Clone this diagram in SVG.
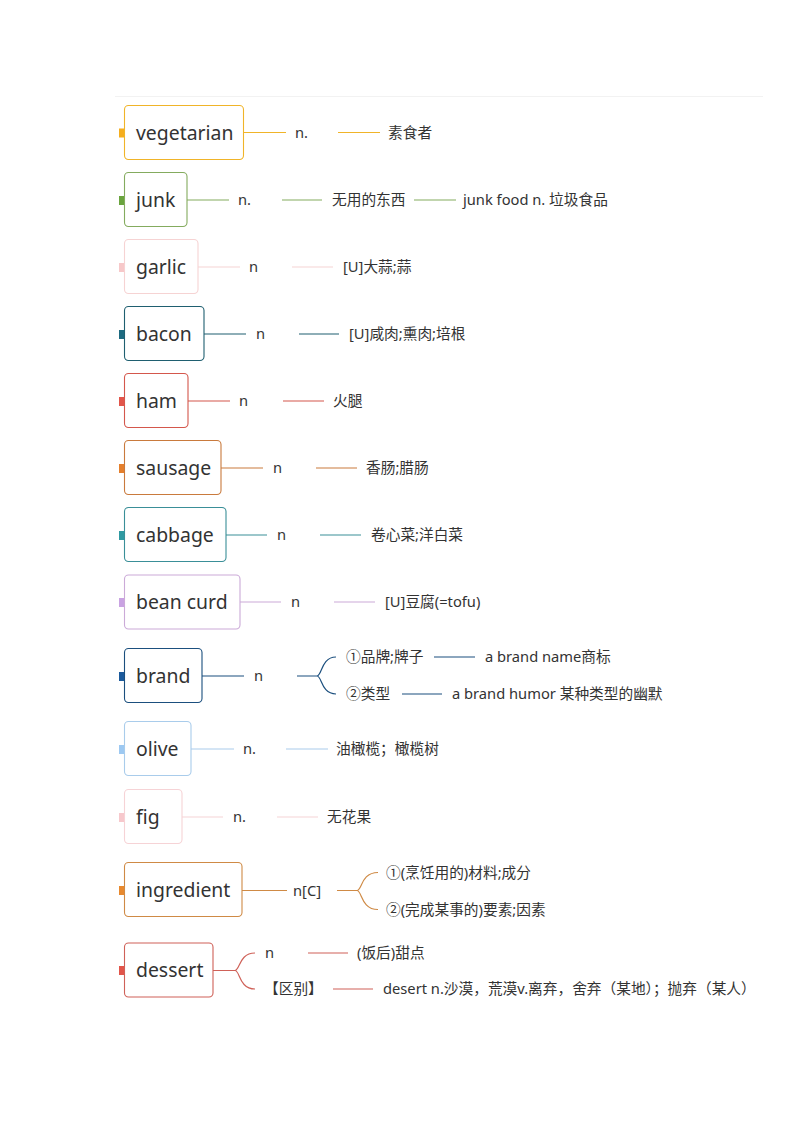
<svg xmlns="http://www.w3.org/2000/svg" width="794" height="1123" viewBox="0 0 794 1123">
<style>
text{font-family:"Noto Sans","Noto Sans CJK SC",sans-serif;fill:#333}
.t{font-size:19.4px}
.l{font-size:14.7px}
.c{fill:none;stroke-width:1.2}
rect.b{fill:#fff;stroke-width:1.1}
</style>
<rect width="794" height="1123" fill="#fff"/>
<line x1="115" y1="96.5" x2="763" y2="96.5" stroke="#f2f2f2" stroke-width="1"/>
<g id="connectors" class="c">
<path d="M244 132.5H286M338 132.5H380" stroke="#F0B429"/>
<path d="M187 200H229M282 200H322M414 200H456" stroke="#84AB5E"/>
<path d="M198 267H240M292 267H333" stroke="#F6D3D3"/>
<path d="M204 334H246M299 334H339" stroke="#1F5F70"/>
<path d="M188 401H230M283 401H324" stroke="#D4574C"/>
<path d="M221 468H263M316 468H357" stroke="#C97A3D"/>
<path d="M226 535H267M320 535H361" stroke="#3A8F98"/>
<path d="M240 602H281M334 602H375" stroke="#CBAAD8"/>
<path d="M202 676H244M297 676H317C322 676 321 657 336 657M317 676C322 676 321 694 336 694M434 657H475M402 694H442" stroke="#1B4F7E"/>
<path d="M191 749H234M286 749H328" stroke="#A9CCEB"/>
<path d="M182 817H223M277 817H318" stroke="#F6D3D6"/>
<path d="M242 890.5H287M337 890.5H357C362 890.5 361 872.5 378 872.5M357 890.5C362 890.5 361 909.5 378 909.5" stroke="#CF8A45"/>
<path d="M213 970.5H235C240 970.5 239 953 255 953M235 970.5C240 970.5 239 989 255 989M308 953H348M333 989H373" stroke="#CF6158"/>
</g>
<g id="vegetarian"><rect class="b" x="124.5" y="105.5" width="119" height="54" rx="4" stroke="#F0B429"/><rect x="119" y="128.5" width="5" height="9" fill="#F5AE1E"/><text class="t" x="136" y="139.5">vegetarian</text><text class="l" x="295" y="137.5">n.</text><text class="l" x="388" y="137.5">素食者</text></g>
<g id="junk"><rect class="b" x="124.5" y="172.5" width="62.5" height="54" rx="4" stroke="#84AB5E"/><rect x="119" y="196" width="5" height="9" fill="#6AA43E"/><text class="t" x="136" y="207">junk</text><text class="l" x="238" y="205">n.</text><text class="l" x="332" y="205">无用的东西</text><text class="l" x="463" y="205">junk food n. 垃圾食品</text></g>
<g id="garlic"><rect class="b" x="124.5" y="239.5" width="73.5" height="54" rx="4" stroke="#F6D3D3"/><rect x="119" y="263" width="5" height="9" fill="#F7C8C9"/><text class="t" x="136" y="274">garlic</text><text class="l" x="249" y="272">n</text><text class="l" x="343" y="272">[U]大蒜;蒜</text></g>
<g id="bacon"><rect class="b" x="124.5" y="306.5" width="79.5" height="54" rx="4" stroke="#1F5F70"/><rect x="119" y="330" width="5" height="9" fill="#1D6A80"/><text class="t" x="136" y="341">bacon</text><text class="l" x="256" y="339">n</text><text class="l" x="349" y="339">[U]咸肉;熏肉;培根</text></g>
<g id="ham"><rect class="b" x="124.5" y="373.5" width="63.5" height="54" rx="4" stroke="#D4574C"/><rect x="119" y="397" width="5" height="9" fill="#E2554A"/><text class="t" x="136" y="408">ham</text><text class="l" x="239" y="406">n</text><text class="l" x="333" y="406">火腿</text></g>
<g id="sausage"><rect class="b" x="124.5" y="440.5" width="96.5" height="54" rx="4" stroke="#C97A3D"/><rect x="119" y="464" width="5" height="9" fill="#E57F2C"/><text class="t" x="136" y="475">sausage</text><text class="l" x="273" y="473">n</text><text class="l" x="366" y="473">香肠;腊肠</text></g>
<g id="cabbage"><rect class="b" x="124.5" y="507.5" width="101.5" height="54" rx="4" stroke="#3A8F98"/><rect x="119" y="531" width="5" height="9" fill="#2F9AA2"/><text class="t" x="136" y="542">cabbage</text><text class="l" x="277" y="540">n</text><text class="l" x="371" y="540">卷心菜;洋白菜</text></g>
<g id="bean-curd"><rect class="b" x="124.5" y="575" width="115.5" height="54" rx="4" stroke="#CBAAD8"/><rect x="119" y="598" width="5" height="9" fill="#C9A2E2"/><text class="t" x="136" y="609">bean curd</text><text class="l" x="291" y="607">n</text><text class="l" x="385" y="607">[U]豆腐(=tofu)</text></g>
<g id="brand"><rect class="b" x="124.5" y="648.5" width="77.5" height="54" rx="4" stroke="#1B4F7E"/><rect x="119" y="672" width="5" height="9" fill="#1B5A9C"/><text class="t" x="136" y="683">brand</text><text class="l" x="254" y="681">n</text><text class="l" x="346" y="662">①品牌;牌子</text><text class="l" x="485" y="662">a brand name商标</text><text class="l" x="346" y="699">②类型</text><text class="l" x="452" y="699">a brand humor 某种类型的幽默</text></g>
<g id="olive"><rect class="b" x="124.5" y="721.5" width="66.5" height="54" rx="4" stroke="#A9CCEB"/><rect x="119" y="745" width="5" height="9" fill="#9DC9F2"/><text class="t" x="136" y="756">olive</text><text class="l" x="243" y="754">n.</text><text class="l" x="336" y="754">油橄榄；橄榄树</text></g>
<g id="fig"><rect class="b" x="124.5" y="789.5" width="57.5" height="54" rx="4" stroke="#F6D3D6"/><rect x="119" y="813" width="5" height="9" fill="#F7C8CC"/><text class="t" x="136" y="824">fig</text><text class="l" x="233" y="822">n.</text><text class="l" x="327" y="822">无花果</text></g>
<g id="ingredient"><rect class="b" x="124.5" y="862.5" width="117.5" height="54" rx="4" stroke="#CF8A45"/><rect x="119" y="886" width="5" height="9" fill="#E8892E"/><text class="t" x="136" y="897">ingredient</text><text class="l" x="293" y="895.5">n[C]</text><text class="l" x="386" y="877.5">①(烹饪用的)材料;成分</text><text class="l" x="386" y="914.5">②(完成某事的)要素;因素</text></g>
<g id="dessert"><rect class="b" x="124.5" y="943" width="88.5" height="54" rx="4" stroke="#CF6158"/><rect x="119" y="966" width="5" height="9" fill="#E2554A"/><text class="t" x="136" y="977">dessert</text><text class="l" x="265" y="958">n</text><text class="l" x="357" y="958">(饭后)甜点</text><text class="l" x="264" y="994">【区别】</text><text class="l" x="383" y="994">desert n.沙漠，荒漠v.离弃，舍弃（某地）；抛弃（某人）</text></g>
</svg>
